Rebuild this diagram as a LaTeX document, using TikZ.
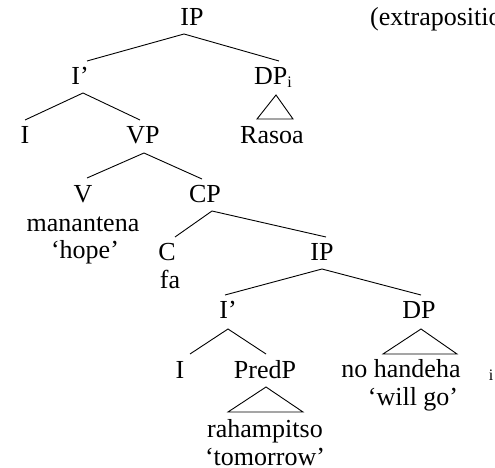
\documentclass[tikz,border=0pt]{standalone}
\usepackage{fontspec}
\setmainfont{Liberation Serif}
\begin{document}
\begin{tikzpicture}[x=1pt,y=-1pt,
  lab/.style={inner sep=0pt,anchor=base,font=\fontsize{26}{30}\selectfont},
  edge/.style={line width=0.9pt,line join=miter},
  tri/.style={line width=0.9pt,line join=miter}]
\useasboundingbox (0,0) rectangle (495,468);
\begin{scope}
\clip (0,0) rectangle (495,468);
% nodes
\node[lab] (ipA) at (192,26) {IP};
\node[lab,anchor=base west] (ext) at (370,26) {(extraposition)};
\node[lab] (ibarA) at (80,85) {I’};
\node[lab] (dpi) at (273,85) {DP\raisebox{-2pt}{\fontsize{16}{16}\selectfont i}};
\node[lab] (iA) at (25,143) {I};
\node[lab] (vp) at (143,143) {VP};
\node[lab] (rasoa) at (272,143) {Rasoa};
\node[lab] (v) at (83,202) {V};
\node[lab] (man) at (83,231) {manantena};
\node[lab] (hope) at (85,258) {‘hope’};
\node[lab] (cp) at (205,202) {CP};
\node[lab] (c) at (167,260) {C};
\node[lab] (fa) at (170,288) {fa};
\node[lab] (ipB) at (322,260) {IP};
\node[lab] (ibarB) at (228,318) {I’};
\node[lab] (dp) at (419,318) {DP};
\node[lab] (iB) at (180,378) {I};
\node[lab] (predp) at (265,378) {PredP};
\node[lab] (nohand) at (401,377) {no handeha};
\node[lab,font=\fontsize{16}{16}\selectfont] (subi) at (491,380) {i};
\node[lab] (willgo) at (413,405) {‘will go’};
\node[lab] (rah) at (265,437) {rahampitso};
\node[lab] (tom) at (265,465) {‘tomorrow’};
\end{scope}
% branch points
\coordinate (ipA-top) at (184,34);
\coordinate (ibarA-in) at (87,61);
\coordinate (dpi-in) at (279,61);
\coordinate (ibarA-top) at (83,93);
\coordinate (iA-in) at (25,120);
\coordinate (vp-in) at (140,120);
\coordinate (dpi-top) at (276,95);
\coordinate (rasoa-l) at (257,119);
\coordinate (rasoa-r) at (293,119);
\coordinate (vp-top) at (144,153);
\coordinate (v-in) at (87,178);
\coordinate (cp-in) at (202,179);
\coordinate (cp-top) at (212,211);
\coordinate (c-in) at (175,237);
\coordinate (ipB-in) at (326,237);
\coordinate (ipB-top) at (322,269);
\coordinate (ibarB-in) at (225,295);
\coordinate (dp-in) at (421,295);
\coordinate (dp-top) at (421,329);
\coordinate (nohand-l) at (383,354);
\coordinate (nohand-r) at (457,354);
\coordinate (ibarB-top) at (228,329);
\coordinate (iB-in) at (190,354);
\coordinate (predp-in) at (266,354);
\coordinate (predp-top) at (266,387);
\coordinate (rah-l) at (228,412);
\coordinate (rah-r) at (303,412);
% connectors
\draw[edge] (ibarA-in) -- (ipA-top) -- (dpi-in);
\draw[edge] (iA-in) -- (ibarA-top) -- (vp-in);
\draw[tri] (dpi-top) -- (rasoa-l) -- (rasoa-r) -- cycle;
\draw[edge] (v-in) -- (vp-top) -- (cp-in);
\draw[edge] (c-in) -- (cp-top) -- (ipB-in);
\draw[edge] (ibarB-in) -- (ipB-top) -- (dp-in);
\draw[tri] (dp-top) -- (nohand-l) -- (nohand-r) -- cycle;
\draw[edge] (iB-in) -- (ibarB-top) -- (predp-in);
\draw[tri] (predp-top) -- (rah-l) -- (rah-r) -- cycle;
\end{tikzpicture}
\end{document}
